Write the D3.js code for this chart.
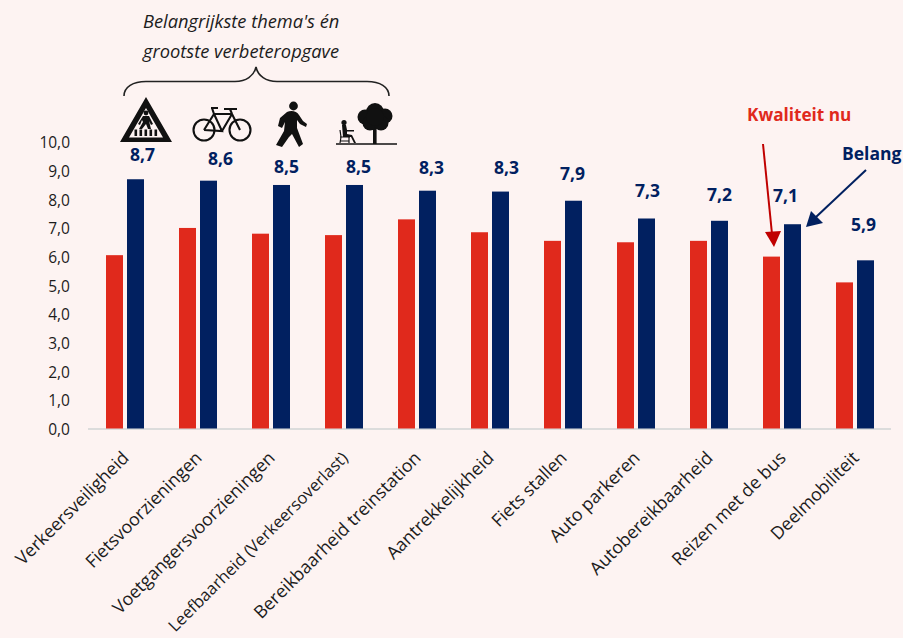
<!DOCTYPE html>
<html>
<head>
<meta charset="utf-8">
<script src="https://cdn.jsdelivr.net/npm/d3@7"></script>
<style>
  html, body { margin: 0; padding: 0; background: #fdf3f2; }
  svg { display: block; font-family: "Open Sans", "Noto Sans", sans-serif; }
</style>
</head>
<body>
<svg id="chart" width="903" height="638"></svg>
<script>
// data
const categories = ["Verkeersveiligheid", "Fietsvoorzieningen", "Voetgangersvoorzieningen",
  "Leefbaarheid (Verkeersoverlast)", "Bereikbaarheid treinstation", "Aantrekkelijkheid",
  "Fiets stallen", "Auto parkeren", "Autobereikbaarheid", "Reizen met de bus", "Deelmobiliteit"];
const kwaliteit = [6.05, 7.0, 6.8, 6.75, 7.3, 6.85, 6.55, 6.5, 6.55, 6.0, 5.1];
const belang = [8.7, 8.65, 8.5, 8.5, 8.3, 8.27, 7.95, 7.33, 7.25, 7.13, 5.87];
const belangLabels = ["8,7", "8,6", "8,5", "8,5", "8,3", "8,3", "7,9", "7,3", "7,2", "7,1", "5,9"];
const yTicks = [0, 1, 2, 3, 4, 5, 6, 7, 8, 9, 10];

const red = "#e0291c", navy = "#012060", ink = "#1c1c1c";
const svg = d3.select("#chart");

const x = d3.scaleBand().domain(categories).range([88, 891]);
const y = d3.scaleLinear().domain([0, 10]).range([428.5, 142]);
const barW = 17, gap = 4;

// axes
const yAxis = d3.axisLeft(y).tickValues(yTicks).tickSize(0)
  .tickFormat(d => d3.format(".1f")(d).replace(".", ","));
svg.append("g").attr("transform", "translate(70,1)").call(yAxis)
  .call(g => g.select(".domain").remove())
  .selectAll("text")
  .attr("x", 0)
  .attr("font-family", "Open Sans")
  .attr("font-size", 15.5)
  .attr("fill", ink);

svg.append("line")
  .attr("x1", 88).attr("x2", 891)
  .attr("y1", y(0) + 0.5).attr("y2", y(0) + 0.5)
  .attr("stroke", "#dcdcdc").attr("stroke-width", 2);

// bars
const center = d => x(d) + x.bandwidth() / 2 + 0.5;
svg.append("g").selectAll("rect")
  .data(categories)
  .join("rect")
  .attr("x", d => center(d) - gap / 2 - barW)
  .attr("width", barW)
  .attr("y", (d, i) => y(kwaliteit[i]))
  .attr("height", (d, i) => y(0) - y(kwaliteit[i]))
  .attr("fill", red);

svg.append("g").selectAll("rect")
  .data(categories)
  .join("rect")
  .attr("x", d => center(d) + gap / 2)
  .attr("width", barW)
  .attr("y", (d, i) => y(belang[i]))
  .attr("height", (d, i) => y(0) - y(belang[i]))
  .attr("fill", navy);

// value labels sit at uneven heights and offsets in the original
const labelLift = [18, 16, 12, 12, 17, 18, 21, 21, 20, 22, 29];
const labelShift = [7, 12, 5, 4, 4, 6, -1, 1, 0, -7, -2];
svg.append("g").selectAll("text")
  .data(categories)
  .join("text")
  .attr("x", (d, i) => center(d) + gap / 2 + barW / 2 + labelShift[i])
  .attr("y", (d, i) => y(belang[i]) - labelLift[i])
  .attr("text-anchor", "middle")
  .attr("font-size", 17.5)
  .attr("font-weight", 700)
  .attr("fill", navy)
  .text((d, i) => belangLabels[i]);

// rotated category labels, the long one a bit smaller so it stays on the page
svg.append("g").selectAll("text")
  .data(categories)
  .join("text")
  .attr("transform", d => `translate(${center(d) + 5},459) rotate(-45)`)
  .attr("text-anchor", "end")
  .attr("font-size", d => d.startsWith("Leefbaarheid") ? 16.6 : 17.8)
  .attr("fill", ink)
  .text(d => d);

// note above the bracket
svg.append("g").selectAll("text")
  .data(["Belangrijkste thema's én", "grootste verbeteropgave"])
  .join("text")
  .attr("x", 143)
  .attr("y", (d, i) => 28 + i * 30)
  .attr("font-size", 18.3)
  .attr("font-style", "italic")
  .attr("fill", ink)
  .text(d => d);

// bracket
svg.append("path")
  .attr("d", "M124,96 C124,87 133,81.5 146,81.5 L235,81.5 C246,81.5 254,76 256,67 C258,76 266,81.5 277,81.5 L367,81.5 C380,81.5 389,87 389,96")
  .attr("fill", "none").attr("stroke", "#222").attr("stroke-width", 1.6);

// icons
const icons = svg.append("g").attr("fill", "#111");

// crossing sign
icons.append("path").attr("fill-rule", "evenodd")
  .attr("d", "M146,97 L172,142 L120,142 Z M146,108 L129,137.5 L163,137.5 Z");
icons.append("circle").attr("cx", 146).attr("cy", 113).attr("r", 2.4);
icons.append("path")
  .attr("d", "M143,116 L149,116 L153,124 L151,125 L149,121 L151,129 L148,129 L146,124 L142,129 L139,129 L143,122 L142,120 L140,125 L138,124 Z");
icons.selectAll(".stripe")
  .data([0, 1, 2, 3, 4])
  .join("rect")
  .attr("class", "stripe")
  .attr("x", d => 134.5 + d * 5)
  .attr("y", 129.5)
  .attr("width", 2.6)
  .attr("height", 6.5);

// bicycle
const bike = svg.append("g").attr("fill", "none").attr("stroke", "#111").attr("stroke-width", 2.1);
bike.append("circle").attr("cx", 204).attr("cy", 130).attr("r", 10.5);
bike.append("circle").attr("cx", 240).attr("cy", 130).attr("r", 10.5);
bike.append("path").attr("d", "M204,130 L214,114 L232,114 L240,130 M214,114 L222,131 L204,130 M222,131 L232,114 M232,114 L230,109 M224,109 L237,109 M211,108 L218,108 M214,114 L212,108");

// walker
icons.append("circle").attr("cx", 293.5).attr("cy", 106).attr("r", 4.4);
icons.append("path")
  .attr("d", "M287,112 C291,110 297,111 299,115 L303,121 L307,124 L306,127 L300,124 L297,120 L297,128 L303,144 L299,147 L292,134 L289,137 L282,147 L276,145 L284,131 L285,122 L282,128 L278,126 L280,118 Z");

// bench and tree
icons.append("path")
  .attr("d", "M336,144 L397,144").attr("stroke", "#111").attr("stroke-width", 1.6);
icons.append("rect").attr("x", 373).attr("y", 122).attr("width", 3.6).attr("height", 22);
icons.selectAll(".leaf")
  .data([[375, 112, 9], [365, 117, 7.5], [385, 116, 7.5], [370, 123, 7.5], [381, 123, 7.5], [375, 117, 9]])
  .join("circle")
  .attr("class", "leaf")
  .attr("cx", d => d[0]).attr("cy", d => d[1]).attr("r", d => d[2]);
icons.append("circle").attr("cx", 344).attr("cy", 122.5).attr("r", 2.6);
icons.append("path")
  .attr("d", "M342,125 L346,125 L347,130 L354,130 L354,131.5 L347,131.5 L347,134 L352,135 L356,143 L354,143 L351,137 L343,137 Z");
svg.append("path")
  .attr("d", "M340,130 L341,137 M340,137 L350,137 M341,137 L340,143 M349,137 L349,143 M340,141 L349,141")
  .attr("fill", "none").attr("stroke", "#111").attr("stroke-width", 1.2);

// annotations
svg.append("text").attr("x", 747).attr("y", 121)
  .attr("font-size", 17.2).attr("font-weight", 700).attr("fill", red).text("Kwaliteit nu");
svg.append("text").attr("x", 842).attr("y", 160)
  .attr("font-size", 17.5).attr("font-weight", 700).attr("fill", navy).text("Belang");

svg.append("line").attr("x1", 763).attr("y1", 144).attr("x2", 772).attr("y2", 234)
  .attr("stroke", "#c00000").attr("stroke-width", 2);
svg.append("path").attr("d", "M765,232 L781,231 L774,247 Z").attr("fill", "#c00000");
svg.append("line").attr("x1", 866).attr("y1", 170).attr("x2", 816).attr("y2", 217)
  .attr("stroke", navy).attr("stroke-width", 2);
svg.append("path").attr("d", "M806,227 L811,211 L823,223 Z").attr("fill", navy);
</script>
</body>
</html>
